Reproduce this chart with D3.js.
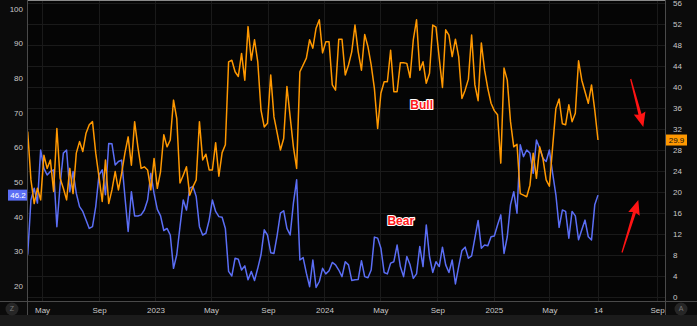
<!DOCTYPE html>
<html>
<head>
<meta charset="utf-8">
<script src="https://cdn.jsdelivr.net/npm/d3@7"></script>
<style>
  html, body { margin: 0; padding: 0; background: #1b1b1b; }
  svg { display: block; }
</style>
</head>
<body>
<svg id="chart" width="697" height="326"></svg>
<script>
// Weekly sentiment readings, one value per week starting at firstWeek
const firstWeek = "2022-03-31";

// Bull % (right axis)
const bull = [
  31.5,22.3,17.8,20.7,18.5,27.0,24.5,26.1,20.1,32.1,
  22.6,20.7,18.5,24.5,19.7,27.4,29.6,27.7,31.2,32.8,
  33.4,27.4,22.9,18.2,26.1,17.8,20.4,23.9,20.4,23.6,
  27.4,30.5,25.1,33.4,28.6,24.5,24.8,24.2,20.4,26.4,
  20.7,23.9,30.9,28.6,29.9,37.5,34.0,21.7,23.2,24.8,
  19.4,21.0,22.3,33.4,26.1,27.2,24.2,24.2,29.4,23.0,
  27.5,29.0,44.8,45.1,42.9,42.0,46.4,41.3,51.5,45.1,
  49.0,44.8,35.6,32.4,33.1,42.3,34.3,31.2,28.0,30.2,
  40.1,34.3,28.6,24.5,42.9,44.2,45.5,49.0,47.4,51.2,
  52.8,46.5,48.6,48.6,40.4,39.4,49.1,49.1,42.3,44.2,
  46.7,51.8,46.7,43.2,50.0,47.7,44.2,39.7,32.1,38.8,
  41.0,41.0,47.0,39.1,39.1,44.6,44.6,44.5,41.8,49.0,
  52.8,43.2,44.8,40.7,42.6,51.8,51.4,45.5,39.9,50.9,
  49.9,45.8,49.1,45.8,37.8,39.4,41.5,49.9,40.4,37.4,
  48.4,43.2,39.7,36.9,35.5,34.7,25.5,43.6,41.3,33.4,
  28.6,29.1,19.7,19.4,19.1,21.3,27.4,22.6,28.6,26.4,
  22.3,21.1,28.6,35.9,37.7,33.0,32.8,36.6,33.4,35.0,
  45.0,41.3,39.1,36.9,40.4,35.6,29.9
];

// Bear % (left axis)
const bear = [
  29.0,44.8,48.2,43.9,59.2,53.9,52.0,53.0,53.5,37.1,
  49.1,58.3,59.2,47.2,53.0,46.7,42.9,41.5,39.0,36.6,
  37.1,42.9,52.0,53.5,46.3,61.1,61.0,54.9,55.9,56.3,
  45.8,35.7,47.2,40.2,40.2,40.5,41.9,44.8,52.5,46.7,
  42.1,40.2,36.0,36.6,34.7,25.1,29.0,37.1,44.8,41.9,
  48.2,48.7,45.8,37.1,34.7,35.2,39.0,44.8,41.5,40.0,
  39.8,36.6,24.2,22.9,28.0,27.7,24.6,25.8,21.8,24.2,
  21.6,25.1,29.0,36.2,34.7,29.6,29.4,34.7,41.0,41.7,
  36.6,34.7,43.9,50.6,27.5,28.2,23.7,19.8,27.5,19.6,
  21.3,25.1,23.5,24.4,26.8,26.1,24.6,22.7,27.0,26.1,
  21.6,21.8,21.9,27.3,22.7,22.4,24.6,34.1,33.8,30.9,
  23.9,23.5,26.6,27.0,31.8,25.6,22.7,28.5,26.1,22.2,
  23.5,31.4,25.6,37.6,28.5,23.9,27.0,25.6,31.2,26.1,
  23.9,27.5,20.6,25.6,30.2,31.2,28.0,28.7,33.8,38.9,
  30.9,31.8,31.6,34.2,34.4,37.6,40.5,29.4,34.2,43.4,
  47.2,41.0,60.7,57.3,59.2,58.3,52.5,62.1,59.7,56.8,
  55.9,59.2,52.5,46.3,36.9,41.9,41.5,33.8,41.5,40.2,
  33.3,36.2,39.0,34.2,33.3,43.4,46.2
];

// Axis ticks
const leftTicks = [20, 30, 40, 50, 60, 70, 80, 90, 100];
const rightTicks = [0, 4, 8, 12, 16, 20, 24, 28, 32, 36, 40, 44, 48, 52, 56];
const timeTickDates = ["2022-05-01","2022-09-01","2023-01-01","2023-05-01","2023-09-01",
  "2024-01-01","2024-05-01","2024-09-01","2025-01-01","2025-05-01","2025-08-14","2025-09-01"];
const timeTickLabels = ["May","Sep","2023","May","Sep","2024","May","Sep","2025","May","14","Sep"];

// Series labels
const seriesNames = ["Bull", "Bear"];
const labelDates = ["2024-07-29", "2024-06-14"];
const labelValues = [35.9, 37.6];

// ---------------------------------------------------------------
const W = 697, H = 326;
const plot = { left: 27, right: 665, top: 0, bottom: 301, strip: 315 };
const font = "'Liberation Sans', Arial, sans-serif";
const BULL_C = "#ff9800", BEAR_C = "#5b6ef5";

const parse = d3.timeParse("%Y-%m-%d");
const start = parse(firstWeek);
const dates = bull.map((_, i) => d3.timeDay.offset(start, 7 * i));
const lastDate = dates[dates.length - 1];

// Bar-spaced time axis, with wider spacing past the last bar
const x = d3.scaleTime()
  .domain([dates[0], lastDate, parse("2025-09-01")])
  .range([27.7, 598, 657]);
const yL = d3.scaleLinear().domain([20, 100]).range([286, 8.5]);
const yR = d3.scaleLinear().domain([0, 56]).range([297, 3]);

const svg = d3.select("#chart");

// Backgrounds
svg.append("rect").attr("width", W).attr("height", H).attr("fill", "#1b1b1b");
svg.append("rect").attr("x", 0).attr("y", 0).attr("width", W).attr("height", plot.strip).attr("fill", "#0b0b0b");
svg.append("rect").attr("x", plot.left).attr("y", 0)
  .attr("width", plot.right - plot.left).attr("height", plot.bottom).attr("fill", "#050505");

// Grid
const grid = svg.append("g").attr("stroke", "#1a1a1a").attr("stroke-width", 1);
grid.selectAll("line.h").data(rightTicks).join("line")
  .attr("x1", plot.left).attr("x2", plot.right)
  .attr("y1", d => Math.round(yR(d)) + 0.5).attr("y2", d => Math.round(yR(d)) + 0.5);
grid.selectAll("line.v").data(timeTickDates).join("line")
  .attr("y1", plot.top).attr("y2", plot.bottom)
  .attr("x1", d => Math.round(x(parse(d))) + 0.5).attr("x2", d => Math.round(x(parse(d))) + 0.5);

// Lines
svg.append("clipPath").attr("id", "clip").append("rect")
  .attr("x", plot.left).attr("y", plot.top)
  .attr("width", plot.right - plot.left).attr("height", plot.bottom - plot.top);

const lines = svg.append("g").attr("clip-path", "url(#clip)");
lines.append("path")
  .datum(bear)
  .attr("fill", "none").attr("stroke", BEAR_C).attr("stroke-width", 1.5)
  .attr("stroke-linejoin", "round")
  .attr("d", d3.line().x((d, i) => x(dates[i])).y(d => yL(d)));
lines.append("path")
  .datum(bull)
  .attr("fill", "none").attr("stroke", BULL_C).attr("stroke-width", 1.5)
  .attr("stroke-linejoin", "round")
  .attr("d", d3.line().x((d, i) => x(dates[i])).y(d => yR(d)));

// Frame lines
svg.append("line").attr("x1", plot.left).attr("x2", plot.right).attr("y1", 0.5).attr("y2", 0.5)
  .attr("stroke", "#8a8a8a");
svg.append("line").attr("x1", 0).attr("x2", W).attr("y1", plot.bottom + 0.5).attr("y2", plot.bottom + 0.5)
  .attr("stroke", "#4a4a4a");
[plot.left, plot.right].forEach(px => {
  svg.append("line").attr("x1", px + 0.5).attr("x2", px + 0.5).attr("y1", 0).attr("y2", plot.strip)
    .attr("stroke", "#4a4a4a");
});

// Axes
function styleAxis(g) {
  g.select(".domain").remove();
  g.selectAll(".tick line").remove();
  g.selectAll("text").attr("fill", "#c9c9c9").attr("font-family", font).attr("font-size", 8);
}
svg.append("g").attr("transform", `translate(${plot.left},0)`)
  .call(d3.axisLeft(yL).tickValues(leftTicks).tickSize(0).tickPadding(4))
  .call(styleAxis);
svg.append("g").attr("transform", `translate(${plot.right},0)`)
  .call(d3.axisRight(yR).tickValues(rightTicks).tickSize(0).tickPadding(8))
  .call(styleAxis);
svg.append("g").attr("transform", `translate(0,${plot.bottom})`)
  .call(d3.axisBottom(x).tickValues(timeTickDates.map(parse))
    .tickFormat((d, i) => timeTickLabels[i]).tickSize(0).tickPadding(6))
  .call(styleAxis);

// Last-value tags
const lastBear = bear[bear.length - 1], lastBull = bull[bull.length - 1];
const tagL = svg.append("g");
tagL.append("rect").attr("x", 8).attr("y", yL(lastBear) - 5.5).attr("width", plot.left - 8).attr("height", 11)
  .attr("fill", BEAR_C);
tagL.append("text").attr("x", (8 + plot.left) / 2 + 0.5).attr("y", yL(lastBear)).attr("dy", "0.35em")
  .attr("text-anchor", "middle").attr("fill", "#ffffff")
  .attr("font-family", font).attr("font-size", 8).text(lastBear.toFixed(1));
const tagR = svg.append("g");
tagR.append("rect").attr("x", plot.right + 1).attr("y", yR(lastBull) - 5.5).attr("width", 21).attr("height", 11)
  .attr("fill", BULL_C);
tagR.append("text").attr("x", plot.right + 11.5).attr("y", yR(lastBull)).attr("dy", "0.35em")
  .attr("text-anchor", "middle").attr("fill", "#111")
  .attr("font-family", font).attr("font-size", 8).text(lastBull.toFixed(1));

// Series name labels
const scalesFor = [yR, yL];
seriesNames.forEach((name, i) => {
  svg.append("text")
    .attr("x", x(parse(labelDates[i]))).attr("y", scalesFor[i](labelValues[i]))
    .attr("text-anchor", "middle")
    .attr("font-family", font).attr("font-weight", "bold").attr("font-size", 12)
    .attr("fill", "#ff1a1a").attr("stroke", "#ffffff").attr("stroke-width", 2.2)
    .attr("stroke-linejoin", "round").attr("paint-order", "stroke")
    .text(name);
});

// Red pointer arrows
function arrow(x1, y1, x2, y2) {
  const dx = x2 - x1, dy = y2 - y1, len = Math.hypot(dx, dy);
  const ux = dx / len, uy = dy / len, nx = -uy, ny = ux;
  const hl = 13, hw = 6, w0 = 0.6, w1 = 1.6;
  const bx = x2 - ux * hl, by = y2 - uy * hl;
  const pts = [
    [x1 + nx * w0, y1 + ny * w0],
    [bx + nx * w1, by + ny * w1],
    [bx + nx * hw - ux * 1.5, by + ny * hw - uy * 1.5],
    [x2, y2],
    [bx - nx * hw - ux * 1.5, by - ny * hw - uy * 1.5],
    [bx - nx * w1, by - ny * w1],
    [x1 - nx * w0, y1 - ny * w0]
  ];
  svg.append("polygon").attr("points", pts.map(p => p.join(",")).join(" ")).attr("fill", "#ff1414");
}
arrow(630.7, 79, 643.3, 127);
arrow(622, 252.5, 638.3, 200);

// Corner buttons
[[12, 309, "Z"], [681, 309, "A"]].forEach(([cx, cy, t]) => {
  svg.append("circle").attr("cx", cx).attr("cy", cy).attr("r", 6.5).attr("fill", "#262626");
  svg.append("text").attr("x", cx).attr("y", cy).attr("dy", "0.35em").attr("text-anchor", "middle")
    .attr("fill", "#777").attr("font-family", font).attr("font-size", 7).text(t);
});
</script>
</body>
</html>
